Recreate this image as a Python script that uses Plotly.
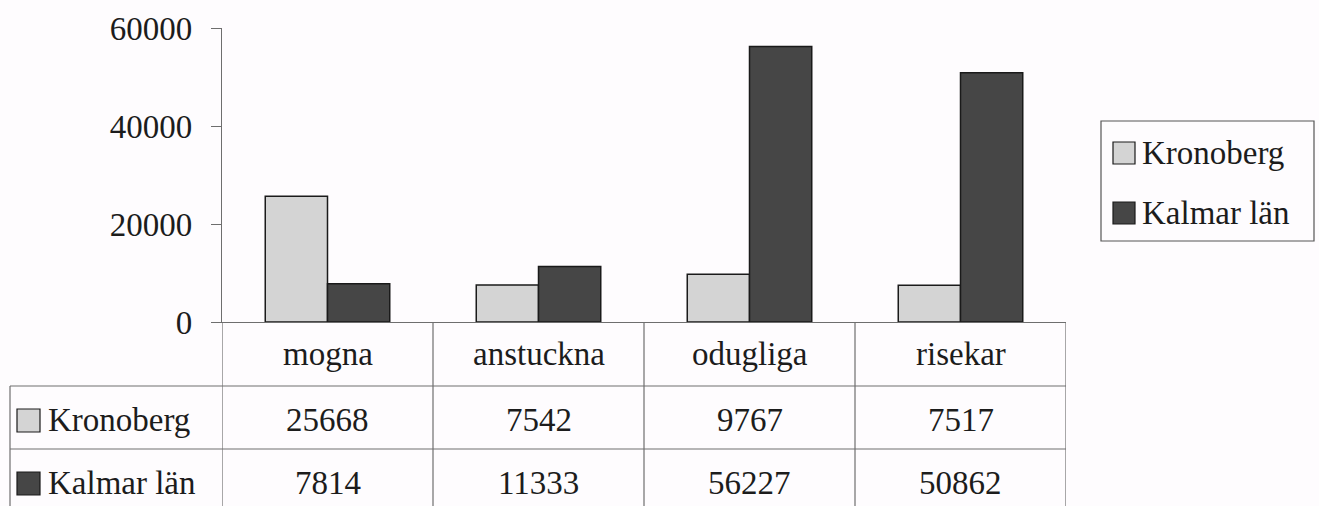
import plotly.graph_objects as go

categories = ["mogna", "anstuckna", "odugliga", "risekar"]
series_names = ["Kronoberg", "Kalmar län"]
kronoberg = [25668, 7542, 9767, 7517]
kalmar = [7814, 11333, 56227, 50862]
y_ticks = [0, 20000, 40000, 60000]

colors = ["#d4d4d4", "#464646"]
series_values = [kronoberg, kalmar]

W, H = 1319, 506
L, R, T, B = 222, 1066, 28, 322  # plot area in pixels


def px_x(px):
    return (px - L) / (R - L)


def px_y(py):
    return (B - py) / (B - T)


FONT = "'Times New Roman', 'Liberation Serif', 'DejaVu Serif', serif"
FS = 33
TXT = "#1c1c1c"
LINE = "#6e6e6e"

fig = go.Figure()
for name, vals, col in zip(series_names, series_values, colors):
    fig.add_trace(go.Bar(
        x=categories, y=vals, name=name, showlegend=False,
        marker=dict(color=col, line=dict(color="#1a1a1a", width=1.5)),
    ))

shapes = []
annotations = []

# table vertical lines at category boundaries
for i in range(len(categories) + 1):
    shapes.append(dict(type="line", xref="x", yref="paper",
                       x0=i - 0.5, x1=i - 0.5, y0=0, y1=px_y(520),
                       line=dict(color=LINE, width=1.2)))
# table horizontal lines
for py in [386, 449]:
    shapes.append(dict(type="line", xref="paper", yref="paper",
                       x0=px_x(10), x1=1, y0=px_y(py), y1=px_y(py),
                       line=dict(color=LINE, width=1.2)))
# left border of legend column
shapes.append(dict(type="line", xref="paper", yref="paper",
                   x0=px_x(10), x1=px_x(10), y0=px_y(386), y1=px_y(520),
                   line=dict(color=LINE, width=1.2)))

# category labels row
for c in categories:
    annotations.append(dict(x=c, y=px_y(354), xref="x", yref="paper",
                            text=c, showarrow=False, xanchor="center", yanchor="middle",
                            font=dict(family=FONT, size=FS, color=TXT)))
# data rows
row_centers = [420, 483]
for name, vals, col, yc in zip(series_names, series_values, colors, row_centers):
    for c, v in zip(categories, vals):
        annotations.append(dict(x=c, y=px_y(yc), xref="x", yref="paper",
                                text=str(v), showarrow=False, xanchor="center", yanchor="middle",
                                font=dict(family=FONT, size=FS, color=TXT)))
    shapes.append(dict(type="rect", xref="paper", yref="paper",
                       x0=px_x(17), x1=px_x(40), y0=px_y(yc + 12), y1=px_y(yc - 11),
                       fillcolor=col, line=dict(color="#1a1a1a", width=1.2)))
    annotations.append(dict(x=px_x(46), y=px_y(yc), xref="paper", yref="paper",
                            text=name, showarrow=False, xanchor="left", yanchor="middle",
                            font=dict(family=FONT, size=FS, color=TXT)))

# legend box
shapes.append(dict(type="rect", xref="paper", yref="paper",
                   x0=px_x(1101), x1=px_x(1314), y0=px_y(241), y1=px_y(121),
                   line=dict(color="#555555", width=1.2), fillcolor="rgba(0,0,0,0)"))
for name, col, yc in zip(series_names, colors, [153, 213]):
    shapes.append(dict(type="rect", xref="paper", yref="paper",
                       x0=px_x(1113), x1=px_x(1135), y0=px_y(yc + 11), y1=px_y(yc - 11),
                       fillcolor=col, line=dict(color="#1a1a1a", width=1.2)))
    annotations.append(dict(x=px_x(1140), y=px_y(yc), xref="paper", yref="paper",
                            text=name, showarrow=False, xanchor="left", yanchor="middle",
                            font=dict(family=FONT, size=FS, color=TXT)))

fig.update_layout(
    width=W, height=H,
    margin=dict(l=L, r=W - R, t=T, b=H - B, pad=0),
    paper_bgcolor="#fefcfe", plot_bgcolor="#fefcfe",
    barmode="group", bargap=0.41, bargroupgap=0,
    showlegend=False,
    shapes=shapes, annotations=annotations,
    font=dict(family=FONT, size=FS, color=TXT),
)
fig.update_xaxes(range=[-0.5, 3.5], showticklabels=False, showgrid=False,
                 showline=True, linecolor=LINE, linewidth=1.2, ticks="",
                 zeroline=False)
fig.update_yaxes(range=[0, 60000], tickvals=y_ticks, ticktext=[str(t) for t in y_ticks],
                 showgrid=False, zeroline=False, showline=True, linecolor=LINE, linewidth=1.2,
                 ticks="outside", ticklen=10, tickcolor=LINE, tickwidth=1.2,
                 ticklabelstandoff=12,
                 tickfont=dict(family=FONT, size=FS, color=TXT))

fig.write_html("out.html", config={"displayModeBar": False},
               post_script="document.body.style.margin='0';document.body.style.overflow='hidden';")
